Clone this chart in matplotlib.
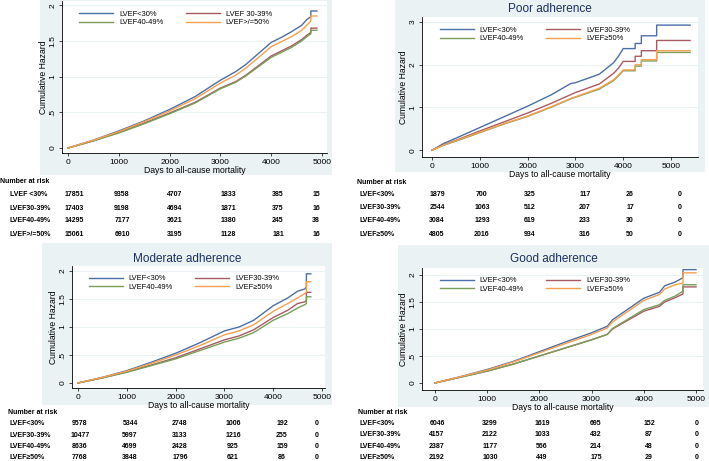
import numpy as np
import matplotlib.pyplot as plt

W, H = 709, 461

# cumulative hazard (days, hazard); repeated days are the jumps
days1 = [0, 500, 1000, 1500, 2000, 2500, 3000, 3300, 3500, 4000, 4200, 4400, 4600, 4700, 4780, 4780, 4900]
all_lt30 = [0, 0.11, 0.24, 0.38, 0.54, 0.72, 0.95, 1.07, 1.17, 1.48, 1.55, 1.63, 1.72, 1.80, 1.84, 1.92, 1.92]
all_30_39 = [0, 0.10, 0.22, 0.35, 0.49, 0.64, 0.84, 0.93, 1.02, 1.29, 1.36, 1.43, 1.52, 1.58, 1.62, 1.68, 1.68]
all_40_49 = [0, 0.10, 0.21, 0.34, 0.48, 0.63, 0.83, 0.92, 1.01, 1.27, 1.34, 1.41, 1.50, 1.56, 1.60, 1.65, 1.65]
all_ge50 = [0, 0.11, 0.23, 0.37, 0.52, 0.69, 0.91, 1.02, 1.12, 1.42, 1.49, 1.56, 1.65, 1.72, 1.78, 1.85, 1.85]

days2 = [0, 250, 500, 1000, 1500, 2000, 2500, 2900, 3000, 3500, 3800, 3900, 4000, 4250, 4250, 4380, 4380,
         4700, 4700, 5400]
poor_lt30 = [0, 0.16, 0.28, 0.53, 0.78, 1.03, 1.30, 1.56, 1.58, 1.78, 2.05, 2.20, 2.38, 2.38, 2.50, 2.50, 2.68,
             2.68, 2.93, 2.93]
poor_30_39 = [0, 0.13, 0.23, 0.45, 0.66, 0.87, 1.10, 1.30, 1.35, 1.55, 1.80, 1.92, 2.08, 2.08, 2.20, 2.20, 2.33,
              2.33, 2.57, 2.57]
poor_40_49 = [0, 0.12, 0.21, 0.41, 0.61, 0.79, 1.01, 1.20, 1.24, 1.43, 1.63, 1.74, 1.86, 1.86, 1.97, 1.97, 2.09,
              2.09, 2.29, 2.29]
poor_ge50 = [0, 0.12, 0.22, 0.42, 0.62, 0.80, 1.02, 1.21, 1.25, 1.45, 1.65, 1.76, 1.88, 1.88, 2.00, 2.00, 2.12,
             2.12, 2.33, 2.33]

days3 = [0, 500, 1000, 1500, 2000, 2500, 3000, 3300, 3600, 4000, 4300, 4500, 4650, 4680, 4680, 4770]
mod_lt30 = [0, 0.10, 0.22, 0.37, 0.53, 0.72, 0.93, 1.00, 1.12, 1.38, 1.52, 1.64, 1.68, 1.72, 1.95, 1.95]
mod_30_39 = [0, 0.09, 0.20, 0.32, 0.45, 0.61, 0.77, 0.84, 0.95, 1.17, 1.30, 1.42, 1.45, 1.48, 1.62, 1.62]
mod_40_49 = [0, 0.09, 0.19, 0.31, 0.43, 0.58, 0.73, 0.80, 0.90, 1.12, 1.24, 1.34, 1.40, 1.42, 1.54, 1.54]
mod_ge50 = [0, 0.10, 0.21, 0.35, 0.50, 0.67, 0.86, 0.93, 1.04, 1.28, 1.42, 1.52, 1.60, 1.62, 1.81, 1.81]

days4 = [0, 500, 1000, 1500, 2000, 2500, 3000, 3300, 3400, 4000, 4300, 4400, 4600, 4750, 4750, 5000]
good_lt30 = [0, 0.12, 0.25, 0.40, 0.58, 0.76, 0.93, 1.05, 1.17, 1.57, 1.68, 1.80, 1.87, 1.95, 2.10, 2.10]
good_30_39 = [0, 0.11, 0.22, 0.35, 0.50, 0.65, 0.80, 0.90, 1.00, 1.33, 1.42, 1.50, 1.58, 1.65, 1.78, 1.78]
good_40_49 = [0, 0.11, 0.22, 0.35, 0.50, 0.65, 0.80, 0.90, 1.01, 1.36, 1.45, 1.53, 1.61, 1.70, 1.82, 1.82]
good_ge50 = [0, 0.12, 0.24, 0.39, 0.56, 0.73, 0.90, 1.02, 1.13, 1.53, 1.64, 1.74, 1.82, 1.85, 2.04, 2.04]

# number at risk at 0, 1000, ..., 5000
risk_all = [[17851, 9358, 4707, 1833, 385, 15],
            [17403, 9198, 4694, 1871, 375, 16],
            [14295, 7177, 3621, 1380, 245, 38],
            [15061, 6910, 3195, 1128, 181, 16]]
risk_poor = [[1879, 700, 325, 117, 26, 0],
             [2544, 1063, 512, 207, 17, 0],
             [3084, 1293, 619, 233, 30, 0],
             [4805, 2016, 934, 316, 50, 0]]
risk_mod = [[9578, 5344, 2748, 1006, 192, 0],
            [10477, 5997, 3133, 1216, 255, 0],
            [8636, 4699, 2428, 925, 159, 0],
            [7768, 3848, 1796, 621, 86, 0]]
risk_good = [[6046, 3299, 1619, 695, 152, 0],
             [4157, 2122, 1033, 432, 87, 0],
             [2387, 1177, 566, 214, 48, 0],
             [2192, 1030, 449, 175, 29, 0]]

leg_all = ['LVEF<30%', 'LVEF 30-39%', 'LVEF40-49%', 'LVEF>/=50%']
leg_sub = ['LVEF<30%', 'LVEF30-39%', 'LVEF40-49%', 'LVEF≥50%']
row_all = ['LVEF <30%', 'LVEF30-39%', 'LVEF40-49%', 'LVEF>/=50%']
row_sub = ['LVEF<30%', 'LVEF30-39%', 'LVEF40-49%', 'LVEF≥50%']

colors = ['#4c6fa8', '#a85a64', '#7a9e5a', '#f4a050']
bg = '#eaf2f3'

plt.rcParams['font.family'] = ['Liberation Sans', 'DejaVu Sans']

fig = plt.figure(figsize=(W / 100, H / 100), dpi=100)


def px_axes(l, t, r, b, **kw):
    return fig.add_axes([l / W, 1 - b / H, (r - l) / W, (b - t) / H], **kw)


def panel(region, box, xl, yl, yticks, yticklabels, days, series, labels, title=None, title_y=None):
    g = px_axes(*region)
    g.set_facecolor(bg)
    g.set_xticks([])
    g.set_yticks([])
    for s in g.spines.values():
        s.set_visible(False)
    ax = px_axes(*box)
    ax.set_facecolor('white')
    for yv in yticks[1:]:
        ax.axhline(yv, color=bg, lw=0.8, zorder=0)
    lines = []
    for ys, c, lab in zip(series, colors, labels):
        ln, = ax.plot(days, ys, color=c, lw=1.0, label=lab)
        lines.append(ln)
    ax.set_xlim(*xl)
    ax.set_ylim(*yl)
    ax.set_xticks([0, 1000, 2000, 3000, 4000, 5000])
    ax.set_yticks(yticks)
    ax.set_yticklabels(yticklabels, rotation=90, va='center')
    ax.tick_params(labelsize=6, length=2.5, width=0.5, pad=1.5)
    for s in ['top', 'right']:
        ax.spines[s].set_visible(False)
    ax.spines['left'].set_linewidth(0.6)
    ax.spines['bottom'].set_linewidth(0.6)
    ax.set_xlabel('Days to all-cause mortality', fontsize=6.2, labelpad=0)
    ax.set_ylabel('Cumulative Hazard', fontsize=6.2, labelpad=1)
    order = [0, 2, 1, 3]
    ax.legend([lines[i] for i in order], [labels[i] for i in order], ncol=2,
              frameon=False, fontsize=5.4, handlelength=4.5, columnspacing=3,
              labelspacing=0.15, loc='upper left', bbox_to_anchor=(0.04, 0.98))
    if title:
        fig.text((region[0] + region[2]) / 2 / W, 1 - title_y / H, title,
                 fontsize=8.5, color='#1a2f5e', ha='center', va='center')
    return ax


def risk_table(x0, head_y, rows_y, label_x, cols_x, labels, table):
    fig.text(x0 / W, 1 - head_y / H, 'Number at risk', fontsize=5, fontweight='bold', va='center')
    for yy, lab, vals in zip(rows_y, labels, table):
        fig.text(label_x / W, 1 - yy / H, lab, fontsize=5, fontweight='bold', va='center')
        for xx, v in zip(cols_x, vals):
            fig.text(xx / W, 1 - yy / H, str(v), fontsize=5, fontweight='bold', va='center', ha='center')


yt2 = [0, 0.5, 1, 1.5, 2]
yl2 = ['0', '.5', '1', '1.5', '2']

panel((40, 0, 332, 175), (62, 1, 327, 153), (-118, 5098), (-0.07, 2.06), yt2, yl2,
      days1, [all_lt30, all_30_39, all_40_49, all_ge50], leg_all)
panel((395, 0, 705, 172), (422, 17, 698, 157), (-209, 5565), (-0.16, 3.12), [0, 1, 2, 3], ['0', '1', '2', '3'],
      days2, [poor_lt30, poor_30_39, poor_40_49, poor_ge50], leg_sub, 'Poor adherence', 9)
panel((42, 243, 332, 405), (72, 266, 325, 388), (-123, 5061), (-0.09, 2.09), yt2, yl2,
      days3, [mod_lt30, mod_30_39, mod_40_49, mod_ge50], leg_sub, 'Moderate adherence', 259)
panel((398, 245, 709, 407), (422, 268, 703, 390), (-249, 5134), (-0.13, 2.13), yt2, yl2,
      days4, [good_lt30, good_30_39, good_40_49, good_ge50], leg_sub, 'Good adherence', 259)

risk_table(0, 181, [194, 208, 221, 234], 10, [74, 122, 175, 228, 278, 316], row_all, risk_all)
risk_table(357, 182, [194, 207, 220, 234], 360, [437, 482, 530, 585, 630, 680], row_sub, risk_poor)
risk_table(8, 412, [423, 435, 446, 457], 10, [80, 130, 180, 233, 282, 317], row_sub, risk_mod)
risk_table(358, 412, [423, 434, 446, 457], 360, [437, 490, 542, 596, 649, 697], row_sub, risk_good)

fig.savefig('out.png', dpi=100)
